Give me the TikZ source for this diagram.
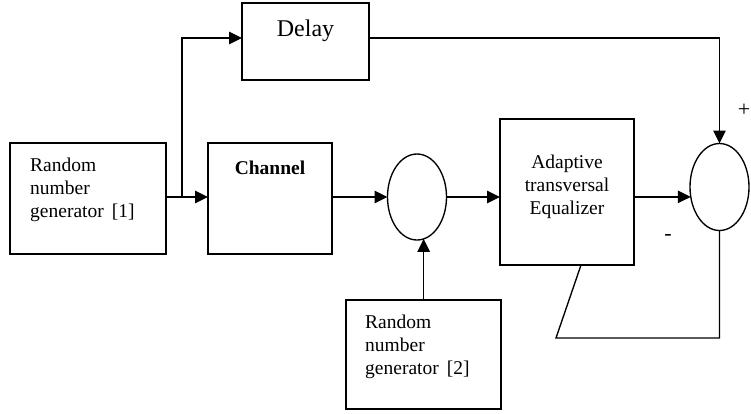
\documentclass[tikz,border=0pt]{standalone}
\usepackage{fontspec}
\setmainfont{Liberation Serif}
\usetikzlibrary{arrows.meta,shapes.geometric}
\begin{document}
\begin{tikzpicture}[x=1pt,y=-1pt,
  box/.style={draw,line width=1.35pt,rectangle,inner sep=0pt,outer sep=0pt},
  sumnode/.style={draw,line width=1.35pt,ellipse,inner sep=0pt,outer sep=0pt,minimum width=59pt,minimum height=86pt},
  lbl/.style={inner sep=0pt,font=\fontsize{19.5}{23}\selectfont},
  sign/.style={inner sep=0pt,font=\fontsize{22}{26}\selectfont},
  wire/.style={line width=1.35pt},
  arr/.style={wire,-{Triangle[length=13pt,width=12.5pt]}}]
\useasboundingbox (0,0) rectangle (751,413);
% boxes
\node[box,minimum width=156pt,minimum height=111pt] (rng1) at (88,198.5) {};
\node[box,minimum width=124pt,minimum height=111pt] (channel) at (270,198.5) {};
\node[box,minimum width=127pt,minimum height=77pt] (delay) at (305.5,41.5) {};
\node[box,minimum width=134pt,minimum height=146pt] (eq) at (567,192) {};
\node[box,minimum width=155pt,minimum height=109pt] (rng2) at (423.5,354.5) {};
\node[sumnode] (c1) at (417,197) {};
\node[sumnode,minimum height=87pt] (c2) at (719.5,187) {};
% texts
\node[lbl,anchor=north west,align=left] (t1) at ([xshift=20pt,yshift=-15pt]rng1.north west) {Random\\number\\generator\ \,[1]};
\node[lbl,anchor=base,font=\fontsize{19.5}{23}\selectfont\bfseries] (t2) at ([yshift=-31pt]channel.north) {Channel};
\node[lbl,anchor=base,font=\fontsize{24}{28}\selectfont] (t3) at ([yshift=-33pt]delay.north) {Delay};
\node[lbl,anchor=north,align=center] (t4) at ([yshift=-36pt]eq.north) {Adaptive\\transversal\\Equalizer};
\node[lbl,anchor=north west,align=left] (t5) at ([xshift=19pt,yshift=-14.5pt]rng2.north west) {Random\\number\\generator\ \,[2]};
\node[sign] (plus) at (744,110) {+};
\node[sign] (minus) at (668,237) {-};
% connectors
\coordinate (br) at (182,197);
\draw[wire] (rng1.east |- br) -- (br);
\draw[arr] (br) -- (channel.west |- br);
\draw[arr] (br) |- ([yshift=3.5pt]delay.west);
\draw[arr] ([yshift=3.5pt]delay.east) -| (c2.north);
\draw[arr] (channel.east |- c1.west) -- (c1.west);
\draw[arr] (c1.east) -- (eq.west |- c1.east);
\draw[arr] (eq.east |- c2.199) -- (c2.199);
\draw[arr] (c1.279 |- rng2.north) -- (c1.279);
\coordinate (fb) at (556,338);
\draw[wire] (c2.south) -- (c2.south |- fb) -- (fb) -- ([xshift=14pt]eq.south);
\end{tikzpicture}
\end{document}
